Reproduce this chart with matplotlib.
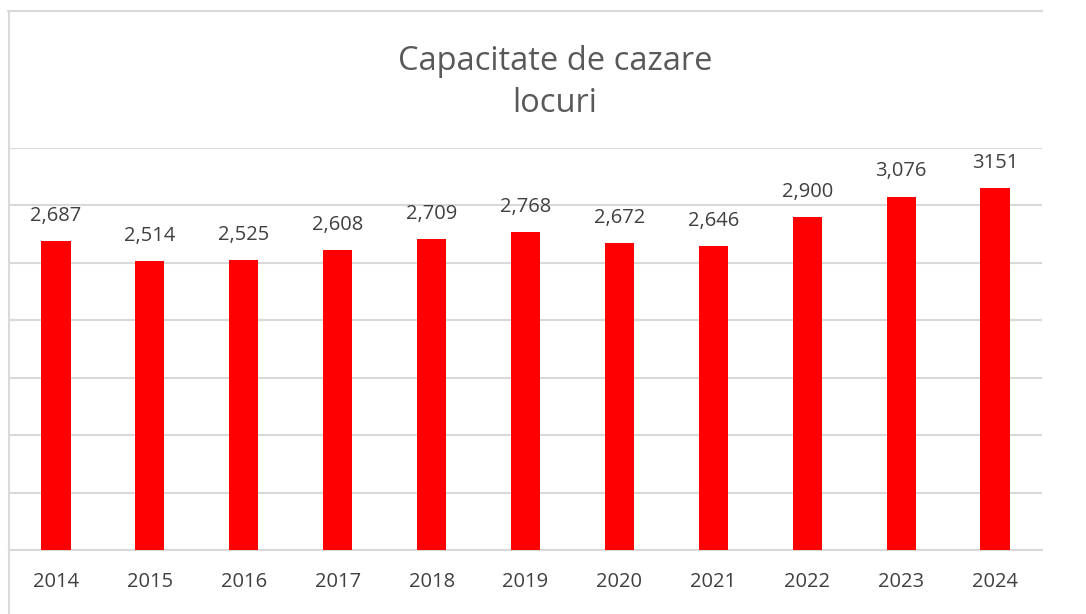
import matplotlib.pyplot as plt
from matplotlib.lines import Line2D

years = ["2014", "2015", "2016", "2017", "2018", "2019", "2020", "2021", "2022", "2023", "2024"]
locuri = [2687, 2514, 2525, 2608, 2709, 2768, 2672, 2646, 2900, 3076, 3151]
labels = ["2,687", "2,514", "2,525", "2,608", "2,709", "2,768", "2,672", "2,646", "2,900", "3,076", "3151"]

plt.rcParams['font.family'] = ['Open Sans', 'DejaVu Sans']
text_col = "#404040"
grid_col = "#d9d9d9"

fig = plt.figure(figsize=(10.86, 6.14), dpi=100)
# axes: x 9..1042 px, y 148..550 px (3500..0)
ax = fig.add_axes([9 / 1086, (614 - 550) / 614, (1042 - 9) / 1086, (550 - 148) / 614])

x = list(range(len(years)))
bars = ax.bar(x, locuri, width=0.31, color="#ff0000", zorder=3)

for xi, v, lab in zip(x, locuri, labels):
    ax.annotate(lab, (xi, v), xytext=(0, 11), textcoords="offset points",
                ha="center", va="bottom", fontsize=14.5, color=text_col)

ax.set_xlim(-0.5, len(years) - 0.5)
ax.set_ylim(0, 3500)
ax.set_yticks(range(0, 3501, 500))
ax.yaxis.grid(True, color=grid_col, linewidth=1.5, zorder=0)
ax.tick_params(axis="y", left=False, labelleft=False)
ax.set_xticks(x)
ax.set_xticklabels(years, fontsize=14.5, color=text_col)
ax.tick_params(axis="x", length=0, pad=16)
for s in ["top", "right", "left"]:
    ax.spines[s].set_visible(False)
ax.spines["bottom"].set_color(grid_col)
ax.spines["bottom"].set_linewidth(1.5)

# chart area border (top and left visible)
fig.add_artist(Line2D([8 / 1086, 1042 / 1086], [1 - 11 / 614, 1 - 11 / 614],
                      color=grid_col, linewidth=1.5, transform=fig.transFigure))
fig.add_artist(Line2D([9 / 1086, 9 / 1086], [0, 1 - 11 / 614],
                      color=grid_col, linewidth=1.5, transform=fig.transFigure))

fig.text(555 / 1086, 1 - 61 / 614, "Capacitate de cazare", ha="center", va="center",
         fontsize=23.5, color="#595959")
fig.text(555 / 1086, 1 - 104 / 614, "locuri", ha="center", va="center",
         fontsize=23.5, color="#595959")

fig.savefig("out.png", dpi=100)
